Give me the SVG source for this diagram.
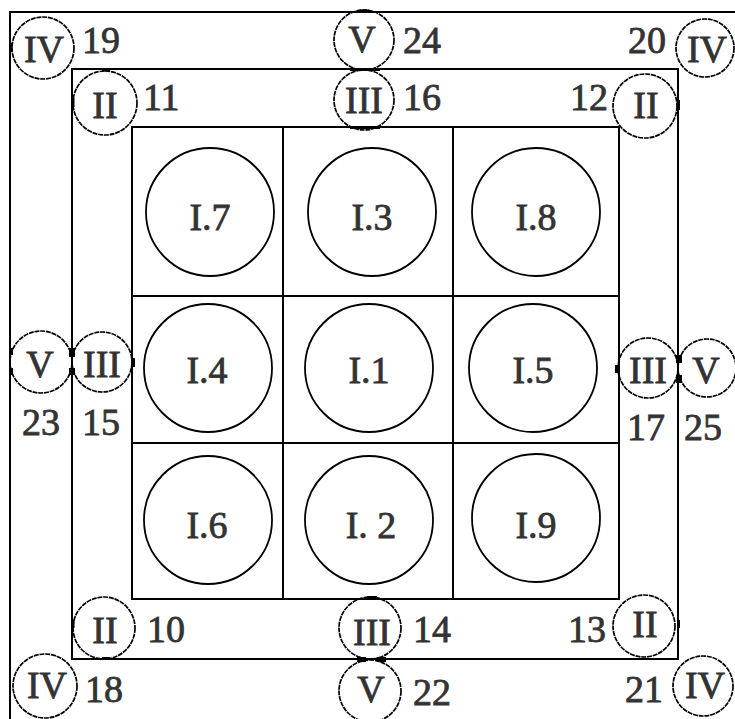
<svg xmlns="http://www.w3.org/2000/svg" width="735" height="719" viewBox="0 0 735 719">
<style>
.ln{fill:none;stroke:#000;stroke-width:2}
.big{fill:none;stroke:#000;stroke-width:1.8}
.sm{fill:none;stroke:#000;stroke-width:1.7;stroke-dasharray:5 0.8}
.t{font-family:"Liberation Serif","Times New Roman",serif;font-size:38px;fill:#333;stroke:#333;stroke-width:0.8}
.c{text-anchor:middle}
.mk{fill:#000}
</style>
<rect width="735" height="719" fill="#fff"/>
<g id="frame">
<rect class="ln" x="10" y="12" width="740" height="720"/>
<rect class="ln" x="72" y="69" width="606" height="590"/>
<rect class="ln" x="132" y="127" width="487" height="472"/>
<line class="ln" x1="283" y1="127" x2="283" y2="599"/>
<line class="ln" x1="453" y1="127" x2="453" y2="599"/>
<line class="ln" x1="132" y1="296" x2="619" y2="296"/>
<line class="ln" x1="132" y1="443" x2="619" y2="443"/>
</g>
<g id="connectors">
<rect class="mk" x="9" y="43" width="3.5" height="9"/>
<rect class="mk" x="71" y="98" width="3.5" height="9"/>
<rect class="mk" x="102" y="68" width="8" height="3.5"/>
<rect class="mk" x="677" y="100" width="3" height="10"/>
<rect class="mk" x="360" y="9.5" width="9" height="3.5"/>
<rect class="mk" x="350" y="68" width="30" height="3"/>
<rect class="mk" x="350" y="126" width="30" height="3"/>
<rect class="mk" x="9" y="348" width="4" height="7"/>
<rect class="mk" x="9" y="368" width="4" height="7"/>
<rect class="mk" x="69" y="348" width="6" height="9"/>
<rect class="mk" x="69" y="368" width="6" height="7"/>
<rect class="mk" x="131" y="358" width="4" height="9"/>
<rect class="mk" x="615" y="365" width="4" height="8"/>
<rect class="mk" x="676" y="355" width="6" height="8"/>
<rect class="mk" x="676" y="375" width="6" height="8"/>
<rect class="mk" x="71" y="620" width="3.5" height="8"/>
<rect class="mk" x="102" y="657" width="8" height="3"/>
<rect class="mk" x="677" y="620" width="3" height="8"/>
<rect class="mk" x="367" y="596" width="10" height="3"/>
<rect class="mk" x="357" y="657" width="9" height="5"/>
<rect class="mk" x="377" y="657" width="9" height="5"/>
</g>
<g id="n-I7"><circle class="big" cx="210" cy="212" r="64"/><text class="t c" x="210" y="230">I.7</text></g>
<g id="n-I3"><circle class="big" cx="372" cy="212" r="64"/><text class="t c" x="372" y="230">I.3</text></g>
<g id="n-I8"><circle class="big" cx="536" cy="212" r="64"/><text class="t c" x="536" y="230">I.8</text></g>
<g id="n-I4"><circle class="big" cx="208" cy="368" r="64"/><text class="t c" x="207" y="383">I.4</text></g>
<g id="n-I1"><circle class="big" cx="369" cy="368" r="64"/><text class="t c" x="369" y="383">I.1</text></g>
<g id="n-I5"><circle class="big" cx="533" cy="368" r="64"/><text class="t c" x="533" y="383">I.5</text></g>
<g id="n-I6"><circle class="big" cx="208" cy="520" r="64"/><text class="t c" x="207" y="538">I.6</text></g>
<g id="n-I2"><circle class="big" cx="369" cy="520" r="64"/><text class="t c" x="371" y="538">I. 2</text></g>
<g id="n-I9"><circle class="big" cx="536" cy="518" r="64"/><text class="t c" x="536" y="538">I.9</text></g>
<g id="n19"><circle class="sm" cx="43" cy="48" r="31"/><text class="t c" x="44" y="62">IV</text><text class="t" x="82" y="53">19</text></g>
<g id="n24"><circle class="sm" cx="364" cy="40" r="30"/><text class="t c" x="362" y="52">V</text><text class="t" x="403" y="53">24</text></g>
<g id="n20"><circle class="sm" cx="705" cy="48" r="29"/><text class="t c" x="707" y="62">IV</text><text class="t" x="628" y="53">20</text></g>
<g id="n11"><circle class="sm" cx="105" cy="103" r="32"/><text class="t c" x="105" y="118">II</text><text class="t" x="143" y="110">11</text></g>
<g id="n16"><circle class="sm" cx="364" cy="100" r="30"/><text class="t c" x="364" y="113">III</text><text class="t" x="403" y="110">16</text></g>
<g id="n12"><circle class="sm" cx="645" cy="106" r="32"/><text class="t c" x="646" y="118">II</text><text class="t" x="570" y="110">12</text></g>
<g id="n23"><circle class="sm" cx="41" cy="362" r="31"/><text class="t c" x="40" y="377">V</text><text class="t" x="22" y="435">23</text></g>
<g id="n15"><circle class="sm" cx="102" cy="362" r="30"/><text class="t c" x="102" y="377">III</text><text class="t" x="82" y="435">15</text></g>
<g id="n17"><circle class="sm" cx="648" cy="368" r="30"/><text class="t c" x="648" y="383">III</text><text class="t" x="627" y="440">17</text></g>
<g id="n25"><circle class="sm" cx="707" cy="368" r="29"/><text class="t c" x="706" y="383">V</text><text class="t" x="684" y="440">25</text></g>
<g id="n10"><circle class="sm" cx="104" cy="628" r="31"/><text class="t c" x="105" y="643">II</text><text class="t" x="147" y="642">10</text></g>
<g id="n14"><circle class="sm" cx="370" cy="628" r="31"/><text class="t c" x="372" y="645">III</text><text class="t" x="413" y="642">14</text></g>
<g id="n13"><circle class="sm" cx="644" cy="626" r="31"/><text class="t c" x="645" y="637">II</text><text class="t" x="568" y="642">13</text></g>
<g id="n18"><circle class="sm" cx="45" cy="686" r="32"/><text class="t c" x="47" y="698">IV</text><text class="t" x="85" y="702">18</text></g>
<g id="n22"><circle class="sm" cx="370" cy="691" r="31"/><text class="t c" x="371" y="702">V</text><text class="t" x="413" y="705">22</text></g>
<g id="n21"><circle class="sm" cx="703" cy="686" r="30"/><text class="t c" x="705" y="698">IV</text><text class="t" x="625" y="702">21</text></g>
</svg>
